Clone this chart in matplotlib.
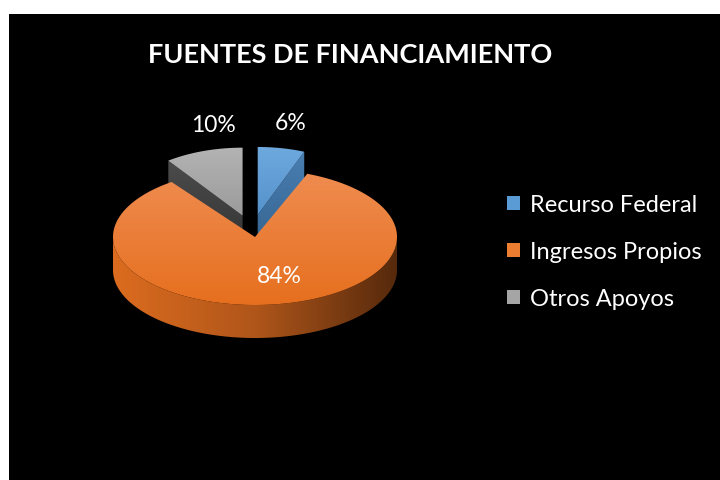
import numpy as np
import matplotlib
matplotlib.use('Agg')
import matplotlib.pyplot as plt
from matplotlib.patches import Polygon, Rectangle, Patch
from matplotlib.colors import to_rgb

# ---------------- data ----------------
title = 'FUENTES DE FINANCIAMIENTO'
categories = ['Recurso Federal', 'Ingresos Propios', 'Otros Apoyos']
values = [6, 84, 10]
pct_labels = ['6%', '84%', '10%']
explode = [0.33, 0.0, 0.33]

# styles
top_light = ['#6EA9DE', '#EF8C50', '#B3B3B3']
top_base = ['#5592CB', '#E66F1E', '#9B9B9B']
side_stops = [['#4F86BB', '#3F72A4', '#2C557E'],
              ['#DC6C1F', '#B0561A', '#55290C'],
              ['#8A8A8A', '#666666', '#404040']]
cut_cols = [['#4A7FB3', '#35648F'], ['#C65F1B', '#9A4A16'], ['#4C4C4C', '#343434']]
legend_cols = ['#5B9BD5', '#ED7D31', '#A5A5A5']

W, H = 720, 481
fig = plt.figure(figsize=(7.2, 4.81), dpi=100, facecolor='white')
ax = fig.add_axes([0, 0, 1, 1])
ax.set_xlim(0, W)
ax.set_ylim(H, 0)
ax.axis('off')
ax.add_patch(Rectangle((9, 15), W - 9, H - 15, facecolor='black', edgecolor='none', zorder=0))

# pie geometry (layout)
CX, CY, A, B, D = 255, 238, 142, 68, 33
PERSP = 0.89      # apparent horizontal shrink of exploded (farther) slices
VIEW_SHIFT = -3   # horizontal shift of exploded slices (viewpoint)


def rim(theta, off, s=1.0, dz=0.0):
    t = np.radians(theta)
    return CX + off[0] + s * A * np.cos(t), CY + off[1] - B * np.sin(t) + dz


def mix(c1, c2, u):
    a, b = np.array(to_rgb(c1)), np.array(to_rgb(c2))
    return a + (b - a) * u


def grad_fill(xy, stops, axis, z):
    xy = np.asarray(xy)
    patch = Polygon(xy, closed=True, facecolor='none', edgecolor='none', zorder=z)
    ax.add_patch(patch)
    x0, y0 = xy.min(axis=0)
    x1, y1 = xy.max(axis=0)
    u = np.linspace(0, 1, 256)
    cols = []
    for uu in u:
        if len(stops) == 2:
            cols.append(mix(stops[0], stops[1], uu))
        elif uu < 0.5:
            cols.append(mix(stops[0], stops[1], uu * 2))
        else:
            cols.append(mix(stops[1], stops[2], (uu - 0.5) * 2))
    cols = np.array(cols)
    if axis == 'x':
        img = np.tile(cols[None, :, :], (8, 1, 1))
    else:
        img = np.tile(cols[:, None, :], (1, 8, 1))
    im = ax.imshow(img, extent=(x0 - 1, x1 + 1, y1 + 1, y0 - 1), origin='upper',
                   aspect='auto', interpolation='bilinear', zorder=z)
    im.set_clip_path(patch)
    ax.set_xlim(0, W)
    ax.set_ylim(H, 0)


# slice angles
slices = []
start = 90.0
for i, v in enumerate(values):
    t1 = start
    t2 = start - v * 3.6
    mid = (t1 + t2) / 2
    e = explode[i]
    if e > 0:
        off = (0.65 * e * A * np.cos(np.radians(mid)) + VIEW_SHIFT,
               -e * B * np.sin(np.radians(mid)))
        s = PERSP
    else:
        off, s = (0.0, 0.0), 1.0
    slices.append((t2, t1, mid, off, s))
    start = t2

order = [2, 0, 1]
z = 2
for i in order:
    t2, t1, mid, off, s = slices[i]
    c0 = (CX + off[0], CY + off[1])
    # cut faces
    for th, nrm in ((t1, t1 + 90), (t2, t2 - 90)):
        if np.sin(np.radians(nrm)) < -1e-6:
            p_top = rim(th, off, s)
            p_bot = rim(th, off, s, D)
            quad = [c0, p_top, p_bot, (c0[0], c0[1] + D)]
            grad_fill(quad, cut_cols[i], 'y', z)
            z += 1
    # outer wall (front half)
    ths = np.linspace(t2, t1, 600)
    front = ths[np.sin(np.radians(ths)) < 0]
    if len(front) > 1:
        top = [rim(t, off, s) for t in front]
        bot = [rim(t, off, s, D) for t in front[::-1]]
        grad_fill(top + bot, side_stops[i], 'x', z)
        z += 1
    # top face
    arc = [rim(t, off, s) for t in np.linspace(t2, t1, 300)]
    grad_fill([c0] + arc, [top_light[i], top_base[i]], 'y', z)
    z += 1

# percentage labels
for i in range(len(values)):
    t2, t1, mid, off, s = slices[i]
    if explode[i] > 0:
        x, y = rim(mid, off, s)
        x += 9.5
        y -= 26
    else:
        x = CX + 0.6 * A * np.cos(np.radians(mid)) + 14
        y = CY + 0.5 * B * (-np.sin(np.radians(mid))) + 5
    ax.text(x, y, pct_labels[i], color='white', fontsize=16.5, family='Lato',
            ha='center', va='center', zorder=50)

ax.text(350, 55, title, color='white', fontsize=19.5, family='Lato', fontweight='bold',
        ha='center', va='center', zorder=50)

handles = [Patch(facecolor=legend_cols[i], edgecolor='none') for i in range(len(categories))]
leg = ax.legend(handles, categories, loc='center left', bbox_to_anchor=(0.674, 0.4745),
                frameon=False, labelcolor='white', handlelength=0.58,
                handleheight=0.58, handletextpad=0.4, labelspacing=1.1,
                prop={'family': 'Lato', 'size': 17})

fig.savefig('out.png', dpi=100, facecolor='white')
